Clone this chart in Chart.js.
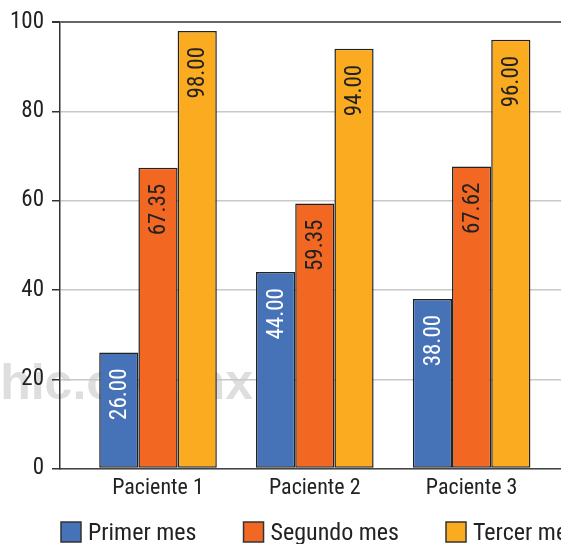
<!DOCTYPE html>
<html>
<head>
<meta charset="utf-8">
<script src="https://cdn.jsdelivr.net/npm/chart.js@4/dist/chart.umd.min.js"></script>
<style>
html,body{margin:0;padding:0;background:#fff;overflow:hidden;}
canvas{display:block;}
</style>
</head>
<body>
<canvas id="c" width="561" height="544"></canvas>
<script>
const categories = ['Paciente 1', 'Paciente 2', 'Paciente 3'];
const seriesNames = ['Primer mes', 'Segundo mes', 'Tercer mes'];
const primerMes = [26.00, 44.00, 38.00];
const segundoMes = [67.35, 59.35, 67.62];
const tercerMes = [98.00, 94.00, 96.00];
const yTicks = [0, 20, 40, 60, 80, 100];

const FONT = "'Roboto Condensed', 'Liberation Sans', Arial, sans-serif";
const colors = ['#4672b8', '#f26722', '#fbab1f'];
const labelColors = ['#ffffff', '#222222', '#222222'];

const watermark = {
  id: 'watermark',
  beforeDraw(chart) {
    const ctx = chart.ctx;
    ctx.save();
    ctx.font = "bold 50px 'Liberation Sans', Arial, sans-serif";
    ctx.fillStyle = '#dedede';
    ctx.textAlign = 'right';
    ctx.textBaseline = 'alphabetic';
    ctx.fillText('medigraphic.org.mx', 253, 399);
    ctx.restore();
  }
};

const barLabels = {
  id: 'barLabels',
  afterDatasetsDraw(chart) {
    const ctx = chart.ctx;
    ctx.save();
    ctx.font = '23px ' + FONT;
    chart.data.datasets.forEach((ds, di) => {
      const meta = chart.getDatasetMeta(di);
      meta.data.forEach((bar, i) => {
        ctx.save();
        ctx.translate(bar.x + 1.5, bar.y);
        ctx.rotate(-Math.PI / 2);
        ctx.textAlign = 'right';
        ctx.textBaseline = 'middle';
        ctx.fillStyle = labelColors[di];
        ctx.fillText(ds.data[i].toFixed(2), -16, 0);
        ctx.restore();
      });
    });
    ctx.restore();
  }
};

const customLegend = {
  id: 'customLegend',
  afterDraw(chart) {
    const ctx = chart.ctx;
    ctx.save();
    ctx.font = '24px ' + FONT;
    ctx.textBaseline = 'alphabetic';
    ctx.textAlign = 'left';
    let x = 61;
    const boxTop = 522, boxSize = 20;
    chart.data.datasets.forEach((ds, di) => {
      ctx.fillStyle = ds.backgroundColor;
      ctx.fillRect(x, boxTop, boxSize, boxSize);
      ctx.strokeStyle = '#333';
      ctx.lineWidth = 1.5;
      ctx.strokeRect(x, boxTop, boxSize, boxSize);
      const tx = x + boxSize + 7;
      ctx.fillStyle = '#222';
      ctx.fillText(ds.label, tx, 540);
      x = tx + ctx.measureText(ds.label).width + 47;
    });
    ctx.restore();
  }
};

const seriesData = [primerMes, segundoMes, tercerMes];

new Chart(document.getElementById('c'), {
  type: 'bar',
  data: {
    labels: categories,
    datasets: seriesNames.map((name, i) => ({
      label: name,
      data: seriesData[i],
      backgroundColor: colors[i],
      borderColor: '#222',
      borderWidth: 1.5,
      borderSkipped: false,
      categoryPercentage: 0.75,
      barPercentage: 1.0
    }))
  },
  options: {
    responsive: false,
    animation: false,
    devicePixelRatio: 1,
    layout: { padding: { top: 22, right: 0, bottom: 35, left: 0 } },
    plugins: {
      legend: { display: false },
      tooltip: { enabled: false }
    },
    scales: {
      x: {
        offset: true,
        grid: { display: false, drawTicks: false },
        border: { display: true, color: '#444', width: 1.5 },
        ticks: { color: '#222', font: { family: FONT, size: 22 }, padding: 7, maxRotation: 0 },
        afterBuildTicks: s => { s._startValue = -0.625; s._valueRange = 3.195; }
      },
      y: {
        min: 0,
        max: 100,
        afterBuildTicks: s => { s.ticks = yTicks.map(v => ({ value: v })); },
        afterFit: s => { s.width = 60; },
        grid: {
          color: c => (c.tick && c.tick.value === 100) ? '#666' : '#c8c8c8',
          lineWidth: c => (c.tick && c.tick.value === 100) ? 2 : 1.5,
          tickColor: '#333',
          tickLength: 8,
          drawTicks: true
        },
        border: { display: true, color: '#333', width: 1.5 },
        ticks: { color: '#222', font: { family: FONT, size: 23 }, padding: 8 }
      }
    }
  },
  plugins: [watermark, barLabels, customLegend]
});
</script>
</body>
</html>
